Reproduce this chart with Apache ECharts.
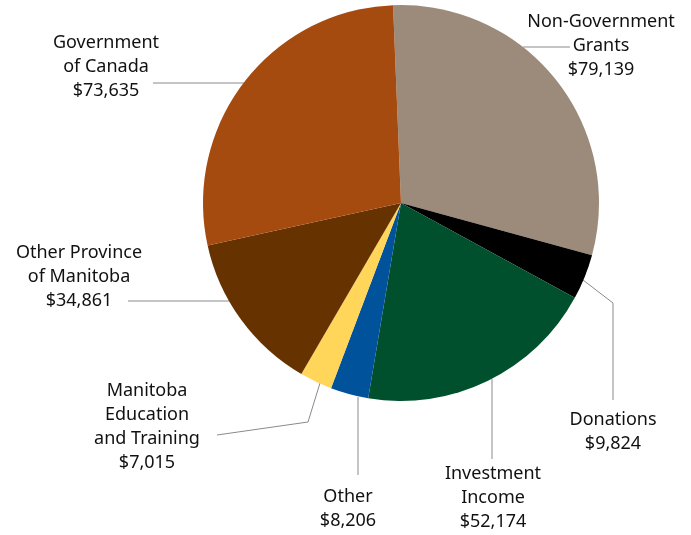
<!DOCTYPE html>
<html><head><meta charset="utf-8">
<script src="https://cdn.jsdelivr.net/npm/echarts@6/dist/echarts.min.js"></script>
<style>html,body{margin:0;padding:0;background:#fff}#c{width:691px;height:535px}</style>
</head><body><div id="c"></div>
<script>
const categories = ['Non-Government\nGrants','Donations','Investment\nIncome','Other','Manitoba\nEducation\nand Training','Other Province\nof Manitoba','Government\nof Canada'];
const values = [79139, 9824, 52174, 8206, 7015, 34861, 73635];
const colors = ['#9c8b7a','#000000','#00502e','#00529b','#ffd55a','#663300','#a64b0f'];

// label placement (layout only)
const labelPos = [[601,46],[613,432],[493,498],[348,509],[147,427],[79,277],[106,67]];
const linePts = [
  [[523,47],[546,47],[570,47]],
  [[583,280],[613,303],[613,400]],
  [[492,379],[492,420],[492,459]],
  [[358,397],[358,436],[358,475]],
  [[320,383],[308,422],[217,435]],
  [[229,301],[180,301],[128,301]],
  [[244,83],[200,83],[153,83]]
];

const fmt = v => '$' + v.toLocaleString('en-US');
const chart = echarts.init(document.getElementById('c'), null, {renderer:'canvas'});
chart.setOption({
  animation:false,
  series:[{
    type:'pie',
    center:[401,203],
    radius:198,
    startAngle:92.3,
    clockwise:true,
    avoidLabelOverlap:false,
    data: categories.map((n,i)=>({name:n, value:values[i], itemStyle:{color:colors[i]}})),
    label:{
      show:true, position:'outside',
      formatter:p=>p.name+'\n'+fmt(p.value),
      fontFamily:'Noto Sans', fontSize:18, lineHeight:24, color:'#111', align:'center'
    },
    labelLine:{show:true, lineStyle:{color:'#8a8a8a', width:1}},
    labelLayout: function(p){
      const i = p.dataIndex;
      return {x:labelPos[i][0], y:labelPos[i][1], align:'center', verticalAlign:'middle', labelLinePoints:linePts[i]};
    },
    emphasis:{disabled:true}
  }]
});
</script></body></html>
